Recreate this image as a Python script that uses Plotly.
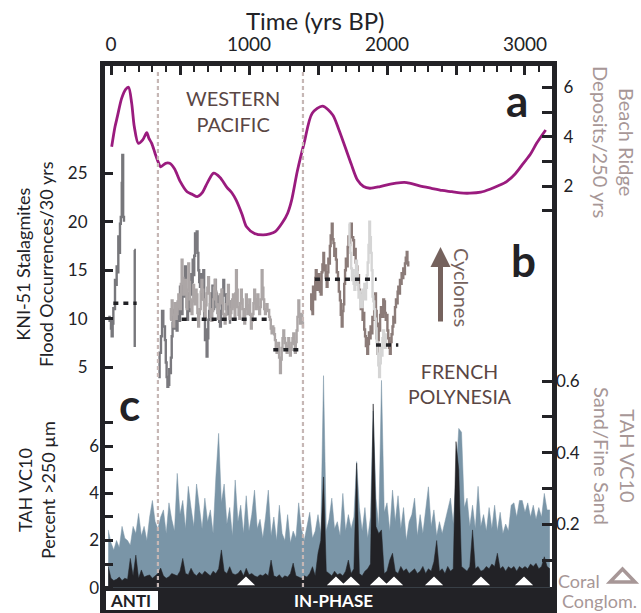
import plotly.graph_objects as go

# ---------------- data ----------------
# (a) Western Pacific beach ridge deposits / 250 yrs
years_a = [5, 29, 46, 77, 106, 127, 150, 169, 198, 230, 259, 275, 295, 319, 340, 360, 395, 425, 460, 500,
           551, 590, 625, 660, 700, 744, 790, 840, 878, 907, 950, 982, 1040, 1101, 1150, 1190, 1240, 1280, 1309, 1350,
           1399, 1458, 1533, 1607, 1650, 1696, 1740, 1786, 1830, 1875, 1950, 2024, 2100, 2143, 2230, 2322, 2400, 2470,
           2530, 2601, 2680, 2746, 2810, 2867, 2930, 2988, 3040, 3084, 3150]
beach_a = [3.59, 4.40, 4.81, 5.55, 5.92, 6.0, 5.35, 4.40, 3.73, 3.87, 4.16, 3.93, 3.73, 3.33, 3.0, 2.78, 2.92, 2.92, 2.70, 2.2,
           1.77, 1.66, 1.57, 1.72, 2.15, 2.52, 2.35, 1.95, 1.71, 1.43, 0.85, 0.35, 0.08, 0.02, 0.06, 0.15, 0.5, 0.9, 1.43, 2.6,
           3.73, 4.95, 5.24, 4.88, 4.3, 3.59, 2.9, 2.24, 1.98, 1.91, 1.98, 2.08, 2.14, 2.14, 2.02, 1.91, 1.82, 1.77,
           1.72, 1.71, 1.75, 1.87, 2.02, 2.18, 2.5, 2.92, 3.3, 3.73, 4.27]

# (b) KNI-51 stalagmite flood occurrences / 30 yrs  (year, value)
kni_seg1 = [(-20, 10.2), (-10, 9.8), (0, 9.0), (5, 8.2), (12, 9.5), (17, 11.1), (23, 11.0), (29, 14.0), (35, 13.5),
            (41, 15.4), (47, 14.8), (53, 18.5), (59, 16.8), (65, 19.8), (71, 20.5), (78, 24.0), (82, 26.9), (88, 20.5),
            (94, 20.0)]
kni_seg1b = [(168, 17.1), (172, 7.1)]
kni_seg2_dark = [(343, 4.0), (352, 6.5), (362, 8.2), (370, 10.8), (379, 9.2), (391, 7.8), (397, 5.5), (403, 4.0),
                 (409, 3.0), (415, 3.2), (422, 4.8), (428, 4.4), (434, 6.0), (440, 8.2), (446, 9.6), (451, 10.9),
                 (457, 9.0), (463, 9.5), (470, 11.6), (476, 8.8), (482, 10.5), (488, 11.5), (494, 9.8), (500, 13.3),
                 (506, 11.0), (512, 10.5), (518, 13.5), (524, 12.3), (530, 14.0), (536, 15.4), (542, 12.8),
                 (548, 11.2), (553, 9.9), (558, 11.5), (563, 12.6), (568, 10.8), (572, 13.3), (577, 14.6),
                 (582, 12.5), (587, 13.8), (592, 16.1), (597, 14.5), (603, 16.5), (609, 18.8), (615, 17.2),
                 (621, 19.0), (627, 16.8), (633, 15.0), (639, 13.8), (645, 13.3), (651, 14.6), (657, 12.0),
                 (663, 13.2), (669, 15.0), (675, 10.2), (681, 7.8), (687, 8.9), (693, 6.1), (699, 8.0), (705, 9.9),
                 (711, 10.8), (717, 11.5), (723, 10.2), (729, 12.6), (735, 13.4), (741, 11.0), (747, 12.5),
                 (754, 14.0), (760, 12.6), (766, 11.2), (772, 12.3), (778, 10.5), (784, 9.7), (790, 9.2),
                 (796, 10.8), (802, 11.5), (808, 13.0), (814, 14.0), (820, 12.4), (826, 12.5), (832, 11.0),
                 (838, 12.3), (844, 11.1), (850, 10.5), (856, 11.8), (862, 9.5)]
kni_seg2_light = [(428, 9.9), (434, 11.0), (440, 11.9), (446, 10.4), (452, 9.2), (458, 10.2), (464, 11.6),
                  (470, 10.0), (476, 10.5), (482, 11.8), (488, 12.5), (494, 11.2), (500, 11.0), (506, 13.6),
                  (512, 16.1), (518, 14.2), (524, 12.5), (530, 13.2), (536, 14.0), (542, 12.6), (548, 11.0),
                  (554, 13.0), (560, 15.7), (566, 13.8), (572, 12.0), (578, 11.2), (584, 10.5), (590, 11.8),
                  (596, 13.5), (602, 12.4), (608, 11.5), (614, 13.0), (620, 12.5), (626, 10.6), (632, 9.2),
                  (638, 10.5), (644, 11.0), (650, 12.8), (656, 14.0), (662, 13.0), (668, 12.0), (674, 10.8),
                  (680, 10.2), (686, 11.4), (692, 12.6), (698, 13.2), (704, 14.3), (710, 12.6), (716, 11.0),
                  (722, 10.2), (728, 9.8), (734, 10.8), (740, 12.0), (746, 13.2), (752, 14.0), (758, 12.8),
                  (764, 11.5), (770, 10.6), (776, 10.0), (782, 11.4), (788, 12.5), (794, 11.8), (800, 13.0),
                  (806, 11.6), (812, 10.5), (818, 9.9), (824, 9.5), (830, 10.4), (836, 11.5), (842, 12.4),
                  (848, 13.5), (854, 11.8), (860, 10.0), (866, 10.6), (872, 11.0), (878, 12.0), (884, 12.5),
                  (890, 11.2), (896, 10.0), (901, 12.6), (906, 15.0), (912, 13.0), (918, 11.2), (924, 10.4),
                  (930, 10.0), (936, 11.6), (942, 13.0), (948, 12.0), (954, 11.0), (960, 10.2), (966, 9.5),
                  (972, 11.0), (978, 12.5), (984, 11.4), (990, 10.5), (996, 11.2), (1002, 12.0), (1008, 10.4),
                  (1014, 9.0), (1020, 9.8), (1026, 10.5), (1032, 11.6), (1038, 13.0), (1044, 12.0), (1050, 11.0),
                  (1056, 11.8), (1062, 12.5), (1068, 11.2), (1074, 10.5), (1080, 11.2), (1086, 12.0), (1092, 15.0),
                  (1098, 13.2), (1104, 12.0), (1110, 11.0), (1116, 10.5), (1122, 11.0), (1128, 11.5), (1134, 10.8),
                  (1140, 10.9), (1146, 10.2), (1152, 9.9), (1158, 9.0), (1164, 8.5), (1170, 9.2), (1176, 9.0),
                  (1182, 8.4), (1188, 7.8), (1194, 7.0), (1200, 6.5), (1206, 7.2), (1212, 7.5), (1218, 6.0),
                  (1225, 4.4), (1231, 5.8), (1237, 7.0), (1243, 8.0), (1249, 8.8), (1255, 8.0), (1261, 7.5),
                  (1267, 7.0), (1273, 6.5), (1279, 7.2), (1285, 8.0), (1291, 7.0), (1297, 6.2), (1303, 6.8),
                  (1309, 7.5), (1315, 8.0), (1321, 8.5), (1327, 7.4), (1333, 6.5), (1339, 7.6), (1345, 8.8),
                  (1351, 10.2), (1358, 11.9), (1364, 10.4), (1370, 9.5), (1375, 10.0), (1380, 10.5), (1386, 9.6),
                  (1391, 9.0)]
kni_seg3_brown = [(1447, 10.9), (1451, 12.5), (1455, 11.9), (1460, 10.5), (1464, 13.3), (1470, 12.2), (1476, 12.0),
                  (1480, 14.2), (1484, 15.0), (1490, 13.4), (1496, 13.0), (1502, 14.6), (1508, 14.0), (1514, 12.8),
                  (1520, 12.5), (1526, 14.8), (1532, 15.6), (1539, 16.8), (1544, 15.0), (1550, 15.5), (1556, 14.2),
                  (1563, 13.3), (1569, 14.8), (1575, 16.2), (1580, 15.7), (1586, 17.5), (1592, 18.6), (1600, 19.8),
                  (1606, 18.2), (1612, 17.8), (1618, 16.5), (1624, 17.2), (1630, 16.1), (1636, 14.8), (1645, 14.0),
                  (1651, 12.8), (1659, 11.9), (1665, 10.4), (1672, 9.2), (1678, 10.8), (1684, 11.5), (1690, 13.6),
                  (1696, 15.0), (1702, 16.2), (1708, 15.4), (1715, 17.4), (1721, 18.5), (1727, 17.6), (1733, 18.8),
                  (1739, 19.8), (1745, 18.4), (1755, 18.1), (1761, 16.6), (1767, 17.2), (1773, 15.8), (1779, 15.4),
                  (1785, 13.8), (1791, 14.5), (1797, 13.0), (1804, 12.6), (1810, 11.0), (1816, 11.8), (1823, 9.9),
                  (1829, 10.6), (1835, 8.9), (1841, 8.2), (1847, 7.2), (1852, 8.0), (1857, 6.4), (1863, 7.4),
                  (1869, 8.6), (1875, 8.0), (1881, 9.2), (1888, 8.5), (1894, 10.2), (1901, 9.9), (1907, 11.4),
                  (1914, 12.6), (1920, 10.8), (1925, 8.0), (1930, 6.4), (1935, 7.8), (1940, 9.5), (1945, 8.8),
                  (1950, 10.4), (1956, 11.2), (1961, 11.2), (1967, 10.2), (1973, 12.0), (1979, 11.8), (1985, 10.6),
                  (1991, 9.9), (1997, 10.4), (2003, 8.8), (2009, 8.0), (2015, 7.0), (2021, 6.4), (2027, 7.6),
                  (2033, 8.4), (2040, 9.2), (2046, 10.2), (2052, 9.6), (2058, 11.2), (2065, 12.0), (2071, 11.6),
                  (2077, 12.8), (2082, 13.3), (2088, 12.6), (2094, 14.0), (2100, 13.6), (2106, 14.7), (2112, 14.2),
                  (2118, 15.2), (2124, 14.6), (2130, 15.7), (2136, 16.3), (2143, 16.9), (2148, 15.8), (2154, 15.4)]
kni_seg3_light = [(1722, 19.8), (1728, 17.6), (1734, 16.8), (1740, 15.2), (1746, 14.0), (1752, 15.0), (1758, 13.6),
                  (1764, 13.0), (1770, 14.4), (1776, 16.0), (1782, 14.8), (1788, 13.5), (1794, 12.2), (1800, 12.8),
                  (1806, 11.2), (1812, 12.4), (1818, 11.2), (1824, 13.0), (1830, 12.0), (1836, 13.6), (1842, 12.0),
                  (1848, 13.2), (1854, 14.5), (1860, 15.8), (1866, 17.6), (1872, 20.0), (1877, 18.4), (1883, 16.8),
                  (1889, 15.0), (1895, 12.3), (1901, 11.8), (1907, 11.0), (1913, 10.0), (1919, 9.0), (1925, 7.6),
                  (1931, 6.4), (1937, 5.2), (1943, 4.0), (1949, 5.4), (1955, 7.1), (1961, 6.2), (1967, 8.0),
                  (1973, 8.8), (1979, 7.6), (1985, 7.0), (1991, 8.5)]
# mean levels (start year, end year, value)
kni_means = [(17, 186, 11.6), (512, 1152, 9.95), (1176, 1391, 6.8), (1478, 1925, 14.07), (1920, 2082, 7.3)]

# (c) TAH VC10, sampled every 20 yrs from -20 to 3180 BP
c_years = list(range(-20, 3181, 20))
c_percent = [2.45, 1.9, 1.6, 2.0, 1.7, 2.6, 2.1, 2.0, 1.8, 2.6,
             2.3, 3.15, 2.2, 2.6, 2.0, 3.0, 3.7, 2.8, 2.5, 3.0,
             3.3, 2.3, 3.6, 2.9, 2.4, 4.85, 3.1, 3.7, 2.5, 4.3,
             3.4, 2.6, 4.4, 3.3, 2.5, 3.8, 2.8, 3.3, 2.3, 4.7,
             6.55, 3.6, 4.4, 2.7, 3.4, 2.2, 4.57, 2.8, 3.5, 2.3,
             3.9, 2.4, 3.1, 4.14, 2.5, 2.9, 2.1, 3.0, 4.14, 2.2,
             3.0, 2.0, 3.5, 2.3, 2.0, 3.1, 1.9, 2.4, 2.1, 3.6,
             2.5, 2.0, 2.6, 3.2, 2.1, 2.4, 3.1, 2.3, 9.0, 2.4,
             2.9, 3.8, 2.5, 2.8, 2.2, 4.0, 2.4, 3.1, 2.5, 3.0,
             5.35, 3.4, 2.4, 3.4, 2.1, 3.0, 7.5, 3.8, 2.6, 8.8,
             3.2, 3.6, 2.4, 4.14, 2.8, 3.9, 2.5, 3.4, 2.0, 2.8,
             3.1, 3.8, 2.2, 3.1, 2.3, 3.4, 4.28, 2.6, 3.3, 2.2,
             2.8, 2.3, 2.8, 3.3, 3.8, 2.7, 4.99, 6.76, 6.6, 3.4,
             3.8, 2.6, 3.5, 2.5, 4.3, 2.6, 3.1, 2.4, 3.4, 2.5,
             3.5, 2.4, 3.2, 2.3, 2.7, 2.4, 3.5, 3.6, 3.0, 3.7,
             3.7, 3.2, 3.6, 3.0, 3.5, 2.9, 3.4, 3.0, 4.0, 3.3,
             3.3]
c_coarse = [0.9, 0.4, 0.3, 0.35, 0.45, 0.3, 0.4, 0.35, 1.24, 0.5,
            1.38, 0.4, 0.75, 0.45, 0.5, 0.54, 0.4, 0.5, 0.6, 0.83,
            0.5, 0.4, 0.46, 0.6, 0.55, 0.5, 0.7, 1.24, 0.6, 0.55,
            0.82, 0.6, 0.5, 0.65, 0.55, 0.7, 0.6, 0.5, 0.7, 0.6,
            0.8, 1.6, 0.7, 0.6, 0.89, 0.6, 0.55, 0.6, 0.75, 0.5,
            0.82, 0.55, 0.6, 0.5, 0.45, 0.55, 0.5, 0.6, 0.5, 1.17,
            0.5, 0.45, 0.55, 0.4, 0.5, 0.45, 0.6, 1.04, 0.5, 0.45,
            0.4, 0.5, 0.45, 0.6, 0.89, 0.5, 1.46, 2.0, 4.7, 0.7,
            0.6, 0.5, 0.7, 0.55, 0.6, 0.5, 0.7, 1.17, 0.6, 0.8,
            5.28, 0.6, 0.5, 0.7, 0.8, 1.0, 7.8, 2.6, 2.3, 2.45,
            0.6, 0.7, 1.17, 1.46, 0.7, 0.6, 0.9, 0.7, 0.8, 0.6,
            0.7, 0.8, 0.6, 0.7, 0.9, 0.6, 0.8, 0.7, 1.1, 2.0,
            0.7, 0.8, 0.6, 0.9, 0.7, 0.8, 6.2, 5.0, 0.9, 0.8,
            0.7, 0.9, 2.45, 0.8, 0.9, 0.7, 0.75, 0.9, 0.8, 1.0,
            0.9, 1.46, 0.8, 0.9, 0.7, 0.89, 0.8, 0.9, 0.7, 0.9,
            0.8, 0.9, 0.8, 1.0, 0.9, 1.03, 0.8, 0.9, 1.31, 0.9,
            0.8]
coral_conglom_years = [978, 1630, 1739, 1942, 2051, 2341, 2681, 2993]
phase_bounds = [340, 1391]

top_tickvals = [0, 500, 1000, 1500, 2000, 2500, 3000]
top_ticktext = ['0', '', '1000', '', '2000', '', '3000']
b_tickvals = [5, 10, 15, 20, 25]
a_tickvals = [1, 2, 3, 4, 5, 6]
a_ticktext = ['', '2', '', '4', '', '6']
c_tickvals = [0, 1, 2, 3, 4, 5, 6, 7]
c_ticktext = ['0', '', '2', '', '4', '', '6', '']
c2_tickvals = [0.1, 0.2, 0.3, 0.4, 0.5, 0.6]
c2_ticktext = ['', '0.2', '', '0.4', '', '0.6']

# ---------------- style / layout ----------------
FONT = 'Lato'
DARK = '#222226'
MAGENTA = '#9a1b7e'
BLUE = '#7a95a7'
BROWN_TXT = '#5a4644'
PINK_GRAY = '#a79797'
ARROW = '#75625d'
DASHC = '#c6b7b5'

W, H = 641, 613
L, R, T, B = 105, 552, 66, 613


def px(x):
    return (x - L) / (R - L)


def py(y):
    return (B - y) / (B - T)


fig = go.Figure()

# panel c areas
fig.add_trace(go.Scatter(x=c_years, y=c_percent, yaxis='y3', mode='lines', fill='tozeroy',
                         line=dict(color=BLUE, width=0.5), fillcolor=BLUE, hoverinfo='skip'))
fig.add_trace(go.Scatter(x=c_years, y=c_coarse, yaxis='y3', mode='lines', fill='tozeroy',
                         line=dict(color=DARK, width=0.5), fillcolor=DARK, hoverinfo='skip'))
# register the right-hand sand/fine-sand axis
fig.add_trace(go.Scatter(x=[None], y=[None], yaxis='y4', mode='lines', hoverinfo='skip'))

# coral conglomerate triangles
tx, ty = [], []
for t in coral_conglom_years:
    tx += [t - 66, t, t + 66, t - 66, None]
    ty += [0.1, 0.47, 0.1, 0.1, None]
fig.add_trace(go.Scatter(x=tx, y=ty, yaxis='y3', mode='lines', fill='toself', fillcolor='white',
                         line=dict(color='white', width=0), hoverinfo='skip'))


def add_step(series, color, width=2.4):
    xs = [p[0] for p in series]
    ys = [p[1] for p in series]
    fig.add_trace(go.Scatter(x=xs, y=ys, yaxis='y', mode='lines', line=dict(color=color, width=width, shape='hv'),
                             hoverinfo='skip'))


add_step(kni_seg1, '#77777b')
add_step(kni_seg1b, '#77777b')
add_step(kni_seg2_dark, '#7a797e')
add_step(kni_seg2_light, '#aca6a6')
add_step(kni_seg3_brown, '#8b7b78')
add_step(kni_seg3_light, '#d5d5d5')

mx, my = [], []
for s, e, v in kni_means:
    mx += [s, e, None]
    my += [v, v, None]
fig.add_trace(go.Scatter(x=mx, y=my, yaxis='y', mode='lines',
                         line=dict(color=DARK, width=3.5, dash='5px,5px'), hoverinfo='skip'))

# panel a
fig.add_trace(go.Scatter(x=years_a, y=beach_a, yaxis='y2', mode='lines',
                         line=dict(color=MAGENTA, width=2.8, shape='spline', smoothing=0.8), hoverinfo='skip'))

tickfont = dict(family=FONT, size=17, color=DARK)
common = dict(showgrid=False, zeroline=False, ticks='inside', tickcolor=DARK, tickwidth=2.5, tickfont=tickfont,
              fixedrange=True)

fig.update_layout(
    width=W, height=H, margin=dict(l=L, r=W - R, t=T, b=H - B, pad=0),
    paper_bgcolor='white', plot_bgcolor='white', showlegend=False,
    font=dict(family=FONT, color=DARK),
    xaxis=dict(domain=[0, 1], range=[-43.5, 3195.7], side='top', showline=True, linewidth=5, linecolor=DARK,
               tickmode='array', tickvals=top_tickvals, ticktext=top_ticktext, ticklen=9,
               minor=dict(ticks='inside', ticklen=6, tickwidth=2, tickcolor=DARK, tickmode='linear', tick0=0,
                          dtick=100, showgrid=False),
               ticklabelstandoff=2, showgrid=False, zeroline=False, ticks='inside', tickcolor=DARK,
               tickwidth=2.5, tickfont=dict(family=FONT, size=19, color=DARK), fixedrange=True),
    yaxis=dict(domain=[0, 1], range=[-20.33, 36.06], side='left', showline=True, linewidth=5, linecolor=DARK,
               tickmode='array', tickvals=b_tickvals, ticklen=8, ticklabelstandoff=9, **common),
    yaxis2=dict(overlaying='y', anchor='x', side='right', range=[-15.30, 6.864], showline=True, linewidth=5,
                linecolor=DARK, tickmode='array', tickvals=a_tickvals, ticktext=a_ticktext, ticklen=10,
                ticklabelstandoff=3, **common),
    yaxis3=dict(overlaying='y', anchor='x', side='left', range=[-1.078, 22.15], showline=False,
                tickmode='array', tickvals=c_tickvals, ticktext=c_ticktext, ticklen=8, ticklabelstandoff=5,
                **common),
    yaxis4=dict(overlaying='y', anchor='x', side='right', range=[-0.048, 1.48], showline=False,
                tickmode='array', tickvals=c2_tickvals, ticktext=c2_ticktext, ticklen=10, ticklabelstandoff=3,
                **common),
)

shapes = []
# dark base band
shapes.append(dict(type='rect', xref='paper', yref='paper', x0=0, x1=1, y0=py(B + 5), y1=py(587),
                   fillcolor=DARK, line=dict(width=0), layer='below'))
for xb in phase_bounds:
    shapes.append(dict(type='line', xref='x', yref='paper', x0=xb, x1=xb, y0=py(587), y1=py(70),
                       line=dict(color=DASHC, width=2.2, dash='4px,3px'), layer='above'))
# ANTI box
shapes.append(dict(type='rect', xref='paper', yref='paper', x0=px(106), x1=px(158), y0=py(610), y1=py(591),
                   fillcolor='white', line=dict(width=0), layer='above'))
# legend open triangle
shapes.append(dict(type='path', xref='paper', yref='paper',
                   path=f'M {px(610)},{py(582)} L {px(622.5)},{py(569)} L {px(635)},{py(582)} Z',
                   line=dict(color=PINK_GRAY, width=3.5), fillcolor='rgba(0,0,0,0)', layer='above'))
fig.update_layout(shapes=shapes)


def ann(text, x, y, size=17, color=DARK, angle=0, bold=False, **kw):
    d = dict(text=f'<b>{text}</b>' if bold else text, x=px(x), y=py(y), xref='paper', yref='paper',
             showarrow=False, xanchor='center', yanchor='middle', textangle=angle,
             font=dict(family=FONT, size=size, color=color))
    d.update(kw)
    return d


annotations = [
    ann('Time (yrs BP)', 315, 21, size=24),
    ann('WESTERN<br>PACIFIC', 233, 111, size=20, color=BROWN_TXT),
    ann('FRENCH<br>POLYNESIA', 460, 384, size=19.5, color=BROWN_TXT),
    ann('a', 517, 100, size=44, bold=True),
    ann('b', 523, 260, size=44, bold=True),
    ann('c', 129, 404, size=44, bold=True),
    ann('Cyclones', 462, 287, size=20, color=ARROW, angle=90),
    ann('KNI-51 Stalagmites<br>Flood Occurrences/30 yrs', 34, 264, size=18, angle=-90),
    ann('TAH VC10<br>Percent >250 µm', 36, 490, size=18, angle=-90),
    ann('Beach Ridge<br>Deposits/250 yrs', 614, 142, size=20, color=PINK_GRAY, angle=90),
    ann('TAH VC10<br>Sand/Fine Sand', 615, 456, size=20, color=PINK_GRAY, angle=90),
    ann('Coral', 579, 581, size=18, color=PINK_GRAY),
    ann('Conglom.', 560, 601, size=18, color=PINK_GRAY, xanchor='left'),
    ann('ANTI', 130, 600.5, size=17, bold=True),
    ann('IN-PHASE', 333, 600, size=17, color='white', bold=True),
    dict(x=px(440.5), y=py(247), xref='paper', yref='paper', text='', showarrow=True, ax=0, ay=76,
         arrowhead=2, arrowsize=0.8, arrowwidth=5, arrowcolor=ARROW, standoff=0),
]
fig.update_layout(annotations=annotations)

fig.write_html('out.html')
